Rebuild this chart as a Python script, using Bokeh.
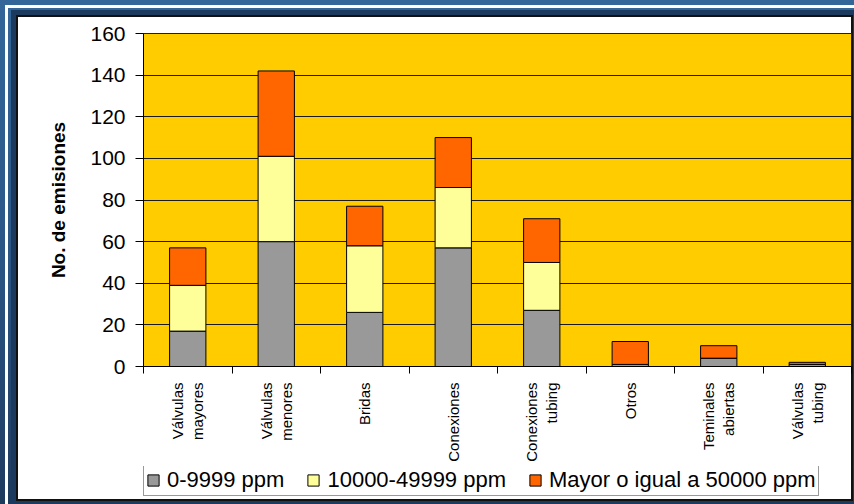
import math
from bokeh.plotting import figure
from bokeh.layouts import column
from bokeh.models import (FactorRange, Range1d, LinearAxis, CategoricalAxis, FixedTicker,
                          Legend, LegendItem, ColumnDataSource)
from bokeh.embed import file_html
from bokeh.resources import INLINE

# ---------------- data ----------------
categories = ["Válvulas\nmayores", "Válvulas\nmenores", "Bridas", "Conexiones",
              "Conexiones\ntubing", "Otros", "Teminales\nabiertas", "Válvulas\ntubing"]
ppm_0_9999 = [17, 60, 26, 57, 27, 1, 4, 1]
ppm_10000_49999 = [22, 41, 32, 29, 23, 0, 0, 0]
ppm_50000_plus = [18, 41, 19, 24, 21, 11, 6, 1]
series_labels = ["0-9999 ppm", "10000-49999 ppm", "Mayor o igual a 50000 ppm"]
y_ticks = [0, 20, 40, 60, 80, 100, 120, 140, 160]
y_title = "No. de emisiones"

# ---------------- style ----------------
FONT = "Liberation Sans"
colors = ["#999999", "#FFFF99", "#FF6600"]
W, H_MAIN, H_LEG = 854, 466, 38

main_bg = ", ".join([
    "linear-gradient(#ffffff, #ffffff) 18px 17px / 833px 100% no-repeat",
    "linear-gradient(#111111, #111111) 16px 15px / 837px 100% no-repeat",
    "linear-gradient(#1b3a5e, #1b3a5e) 11px 10px / 100% 100% no-repeat",
    "linear-gradient(#ffffff, #ffffff) 5px 5px / 100% 3px no-repeat",
    "linear-gradient(#ffffff, #ffffff) 5px 5px / 3px 100% no-repeat",
    "linear-gradient(180deg, #336699 0%, #2b5888 50%, #213f66 100%)",
])
leg_bg = ", ".join([
    "linear-gradient(#ffffff, #ffffff) 18px 0px / 833px 33px no-repeat",
    "linear-gradient(#111111, #111111) 16px 0px / 837px 35px no-repeat",
    "linear-gradient(#1b3a5e, #1b3a5e) 11px 0px / 100% 100% no-repeat",
    "linear-gradient(#ffffff, #ffffff) 5px 0px / 3px 100% no-repeat",
    "linear-gradient(180deg, #213f66 0%, #1c3a5b 100%)",
])

source = ColumnDataSource(dict(cat=categories, s0=ppm_0_9999, s1=ppm_10000_49999, s2=ppm_50000_plus))

fig = figure(width=W, height=H_MAIN, x_range=FactorRange(factors=categories, range_padding=0),
             y_range=Range1d(y_ticks[0], y_ticks[-1]), x_axis_type=None,
             output_backend="svg", toolbar_location=None,
             min_border_left=143, min_border_right=3, min_border_top=33, min_border_bottom=100)
fig.border_fill_color = None
fig.border_fill_alpha = 0
fig.background_fill_color = "#FFCC00"
fig.outline_line_color = "#222222"
fig.outline_line_width = 1
fig.styles = {"background": main_bg}

# bars
renderers = fig.vbar_stack(["s0", "s1", "s2"], x="cat", width=0.41, source=source,
                           fill_color=colors, line_color="black", line_width=1)

# y axis
fig.yaxis.ticker = FixedTicker(ticks=y_ticks)
fig.yaxis.major_tick_in = 0
fig.yaxis.major_tick_out = 8
fig.yaxis.minor_tick_line_color = None
fig.yaxis.axis_line_color = "black"
fig.yaxis.major_tick_line_color = "black"
fig.yaxis.major_label_text_font = FONT
fig.yaxis.major_label_text_font_size = "21px"
fig.yaxis.major_label_text_color = "black"
fig.yaxis.major_label_standoff = 10
fig.yaxis.axis_label = y_title
fig.yaxis.axis_label_text_font = FONT
fig.yaxis.axis_label_text_font_size = "19px"
fig.yaxis.axis_label_text_font_style = "bold"
fig.yaxis.axis_label_text_color = "black"
fig.yaxis.axis_label_standoff = 18
fig.ygrid.ticker = FixedTicker(ticks=y_ticks)
fig.ygrid.grid_line_color = "#1a1a1a"
fig.ygrid.grid_line_width = 1

# x axes: boundary ticks (synthetic coordinates of the factor range) + category labels
n = len(categories)
tick_axis = LinearAxis(ticker=FixedTicker(ticks=list(range(n + 1))),
                       major_label_text_font_size="1px", major_label_text_color=None,
                       major_label_standoff=0,
                       major_tick_in=0, major_tick_out=7, minor_tick_line_color=None,
                       axis_line_color="black", major_tick_line_color="black")
fig.add_layout(tick_axis, "below")
label_axis = CategoricalAxis(axis_line_color=None, major_tick_line_color=None,
                             minor_tick_line_color=None, major_label_orientation=math.pi / 2,
                             major_label_standoff=3, major_label_text_font=FONT,
                             major_label_text_font_size="15px", major_label_text_color="black")
fig.add_layout(label_axis, "below")

# legend strip (separate small figure below the chart)
leg_fig = figure(width=W, height=H_LEG, x_axis_type=None, y_axis_type=None,
                 x_range=Range1d(0, 1), y_range=Range1d(0, 1),
                 output_backend="svg", toolbar_location=None, min_border=0)
leg_fig.border_fill_color = None
leg_fig.border_fill_alpha = 0
leg_fig.background_fill_color = None
leg_fig.background_fill_alpha = 0
leg_fig.outline_line_color = None
leg_fig.xgrid.visible = False
leg_fig.ygrid.visible = False
leg_fig.styles = {"background": leg_bg}
# swatch renderers: one hidden datum each, outside the visible range, only used for legend glyphs
swatches = [leg_fig.vbar(x=[5], bottom=[5], top=[6], width=0.5, fill_color=c,
                         line_color="black", line_width=1)
            for c in colors]
legend = Legend(items=[LegendItem(label=l, renderers=[r]) for l, r in zip(series_labels, swatches)],
                orientation="horizontal", location=(0, 8), margin=0, padding=2,
                spacing=22, label_standoff=7, glyph_width=14, glyph_height=14,
                label_text_font=FONT, label_text_font_size="22px", label_text_color="black",
                border_line_color="#333333", border_line_width=1,
                background_fill_color="white", background_fill_alpha=1)
leg_fig.add_layout(legend)

p = column(fig, leg_fig, spacing=0)

open("out.html", "w").write(file_html(p, INLINE))
